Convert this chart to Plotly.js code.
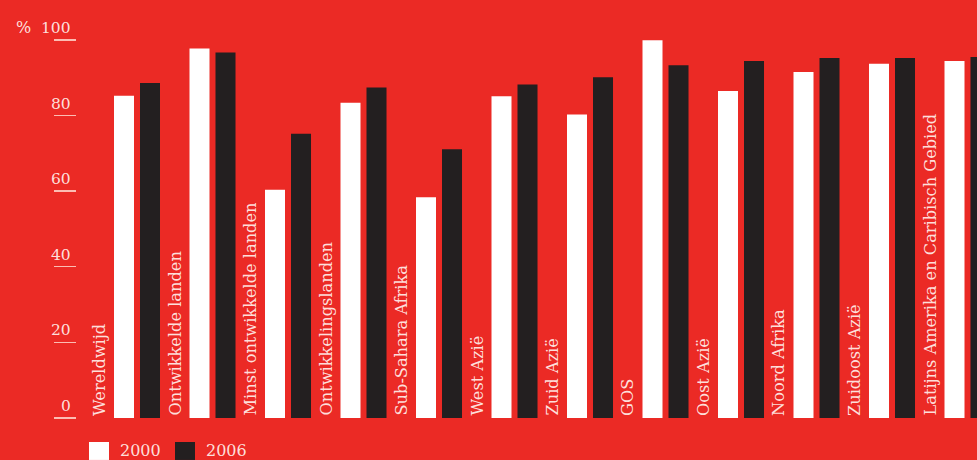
<!DOCTYPE html>
<html>
<head>
<meta charset="utf-8">
<script src="https://cdn.plot.ly/plotly-3.0.1.min.js"></script>
<style>
html,body{margin:0;padding:0;background:#EB2A25;}
#chart{width:977px;height:460px;}
</style>
</head>
<body>
<div id="chart"></div>
<script>
var categories = ["Wereldwijd","Ontwikkelde landen","Minst ontwikkelde landen","Ontwikkelingslanden","Sub-Sahara Afrika","West Azië","Zuid Azië","GOS","Oost Azië","Noord Afrika","Zuidoost Azië","Latijns Amerika en Caribisch Gebied"];
var seriesNames = ["2000","2006"];
var values2000 = [85.2, 97.7, 60.4, 83.4, 58.4, 85.1, 80.3, 99.9, 86.5, 91.5, 93.7, 94.4];
var values2006 = [88.6, 96.7, 75.2, 87.4, 71.1, 88.2, 90.1, 93.3, 94.4, 95.2, 95.2, 95.5];
var yTicks = [0, 20, 40, 60, 80, 100];
var yTickLabels = ["0", "20", "40", "60", "80", "100"];

var RED = "#EB2A25";
var WHITE = "#FFFFFF";
var BLACK = "#231F20";
var TXT = "rgba(255,236,232,0.95)";
var FONT = "DejaVu Serif";

var bw = 0.265;
var traces = [
  {type:"bar", x:categories, y:values2000, name:seriesNames[0], width:bw, offset:-bw/2,
   marker:{color:WHITE, line:{width:0}}, hoverinfo:"skip"},
  {type:"bar", x:categories, y:values2006, name:seriesNames[1], width:bw, offset:0.3444-bw/2,
   marker:{color:BLACK, line:{width:0}}, hoverinfo:"skip"}
];

var annotations = [];
categories.forEach(function(c){
  annotations.push({x:c, y:0, xref:"x", yref:"y", text:c, showarrow:false, textangle:-90,
    xanchor:"center", yanchor:"bottom", xshift:-25, yshift:0,
    font:{family:FONT, size:16.2, color:TXT}});
});
yTicks.forEach(function(v,i){
  annotations.push({x:0, y:v, xref:"paper", yref:"y", text:yTickLabels[i], showarrow:false,
    xanchor:"right", yanchor:"bottom", xshift:-4, yshift:1,
    font:{family:FONT, size:15.5, color:TXT}});
});
annotations.push({x:0, y:100, xref:"paper", yref:"y", text:"%", showarrow:false,
  xanchor:"center", yanchor:"bottom", xshift:-54, yshift:1,
  font:{family:FONT, size:16, color:TXT}});

// legend (custom swatches)
var plotW = 900, plotH = 397.4;
function px(xp){ return (xp-77)/plotW; }
function py(yp){ return -(yp-418)/plotH; }
var legendColors = [WHITE, BLACK];
var legendX = [89, 175];
var shapes = [];
seriesNames.forEach(function(n,i){
  shapes.push({type:"rect", xref:"paper", yref:"paper", x0:px(legendX[i]), x1:px(legendX[i]+20),
    y0:py(460), y1:py(442), fillcolor:legendColors[i], line:{width:0}});
  annotations.push({x:px(legendX[i]+29), y:py(451), xref:"paper", yref:"paper", text:n,
    showarrow:false, xanchor:"left", yanchor:"middle",
    font:{family:FONT, size:16, color:TXT}});
});

var layout = {
  width:977, height:460,
  paper_bgcolor:RED, plot_bgcolor:RED,
  margin:{l:77, r:0, t:20.6, b:42, pad:0},
  showlegend:false,
  barmode:"overlay",
  xaxis:{type:"category", range:[-0.6225, 11.298], showticklabels:false, showgrid:false,
    zeroline:false, showline:false, ticks:"", fixedrange:true},
  yaxis:{range:[0,105], tickvals:yTicks, showticklabels:false, ticks:"outside", ticklen:22,
    tickwidth:1.3, tickcolor:"rgba(255,215,205,0.85)", showgrid:false, zeroline:false,
    showline:false, fixedrange:true},
  annotations:annotations,
  shapes:shapes
};

Plotly.newPlot("chart", traces, layout, {staticPlot:true, displayModeBar:false});
</script>
</body>
</html>
